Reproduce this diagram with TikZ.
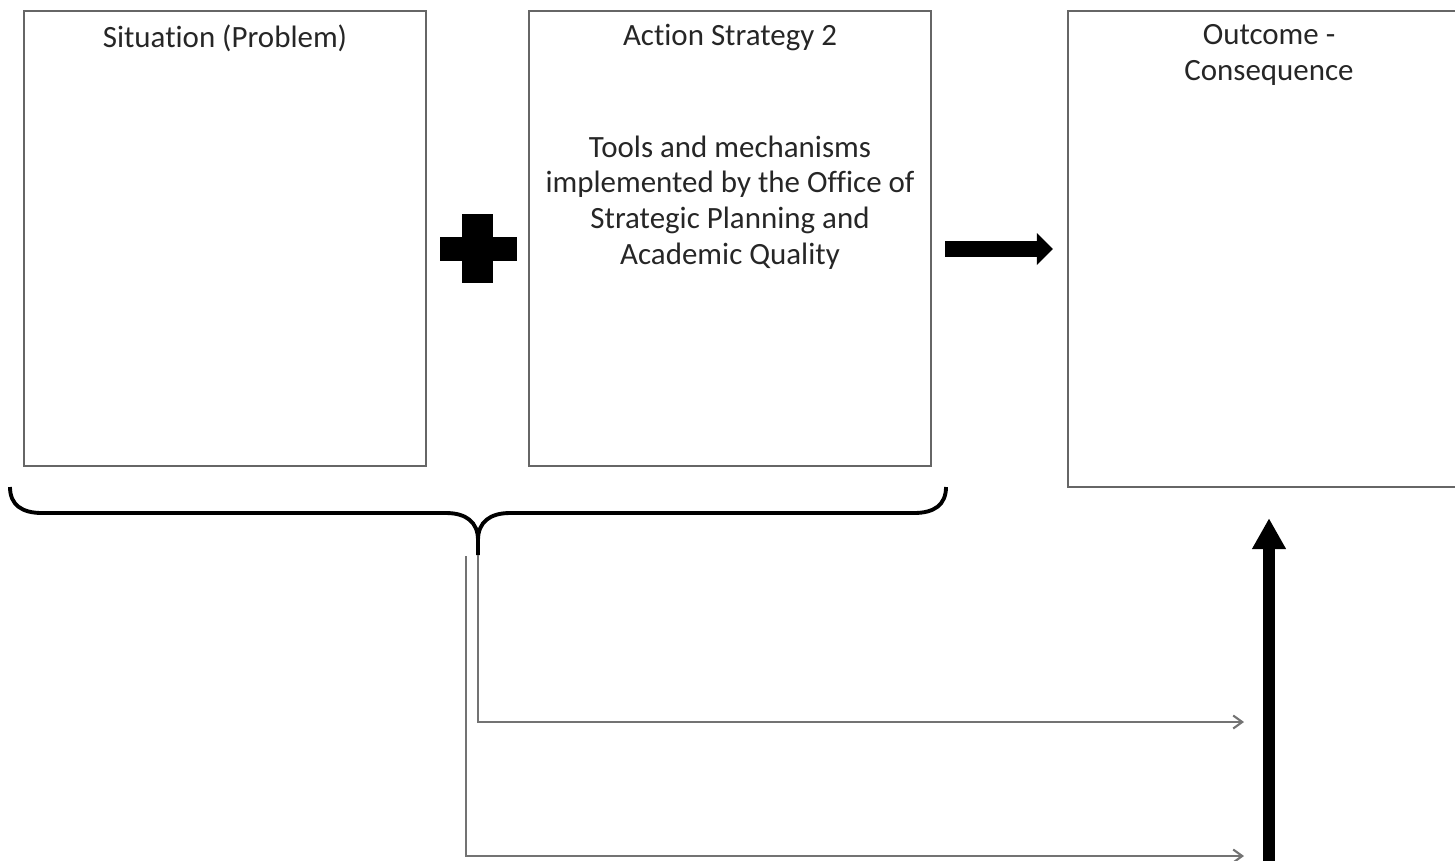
\documentclass[tikz,border=0pt]{standalone}
\usepackage{fontspec}
\setmainfont{Carlito}[Ligatures=CommonOff]
\usetikzlibrary{positioning,arrows.meta}

\begin{document}
\begin{tikzpicture}[x=0.01cm, y=-0.01cm,
  every node/.style={text=black!85, font=\fontsize{8.8pt}{10.2pt}\selectfont},
  box/.style={draw=black!60, line width=0.6pt, inner sep=0pt, minimum width=4.02cm, minimum height=4.55cm},
  boxtext/.style={inner sep=0pt, align=center},
  thinarrow/.style={draw=black!55, line width=0.6pt, -{Straight Barb[length=0.09cm, width=0.13cm]}},
  fatarrow/.style={line width=4.8pt, -{Triangle[length=0.16cm, width=0.31cm]}},
  uparrow/.style={line width=3.4pt, -{Triangle[length=0.31cm, width=0.32cm]}},
  bracel/.style={line width=1.1pt}]

\clip (0,0) rectangle (1455,860);

\node[box] (sit) at (225,238.5) {};
\node[box] (act) at (730,238.5) {};
\node[box, minimum height=4.76cm] (out) at (1269,249) {};

\node[boxtext, below=0.14cm of sit.north] (sitT) {Situation (Problem)};
\node[boxtext, below=0.14cm of act.north] (actT) {Action Strategy 2};
\node[boxtext, below=1.25cm of act.north] (actD) {Tools and mechanisms\\implemented by the Office of\\Strategic Planning and\\Academic Quality};
\node[boxtext, below=0.14cm of out.north] (outT) {Outcome -\\Consequence};

\fill (440,237) rectangle (517,261);
\fill (462,214) rectangle (493,283);

\draw[fatarrow, shorten <=0.13cm, shorten >=0.14cm] (act.east |- out.west) -- (out.west);

\coordinate (bot) at (0,880);
\draw[uparrow, shorten >=0.3cm] (out.south |- bot) -- (out.south);

\draw[bracel] (10,487) .. controls (10,505) and (22,513) .. (42,513) -- (446,513) .. controls (466,513) and (478,522) .. (478,540) -- (478,555);
\draw[bracel] (478,540) .. controls (478,522) and (490,513) .. (510,513) -- (914,513) .. controls (934,513) and (946,505) .. (946,487);

\coordinate (tip) at (478,555);
\coordinate (s2) at (466,556);
\coordinate (e1) at (1244,722);
\coordinate (e2) at (1244,856);
\draw[thinarrow] (tip) |- (e1);
\draw[thinarrow] (s2) |- (e2);
\end{tikzpicture}
\end{document}
